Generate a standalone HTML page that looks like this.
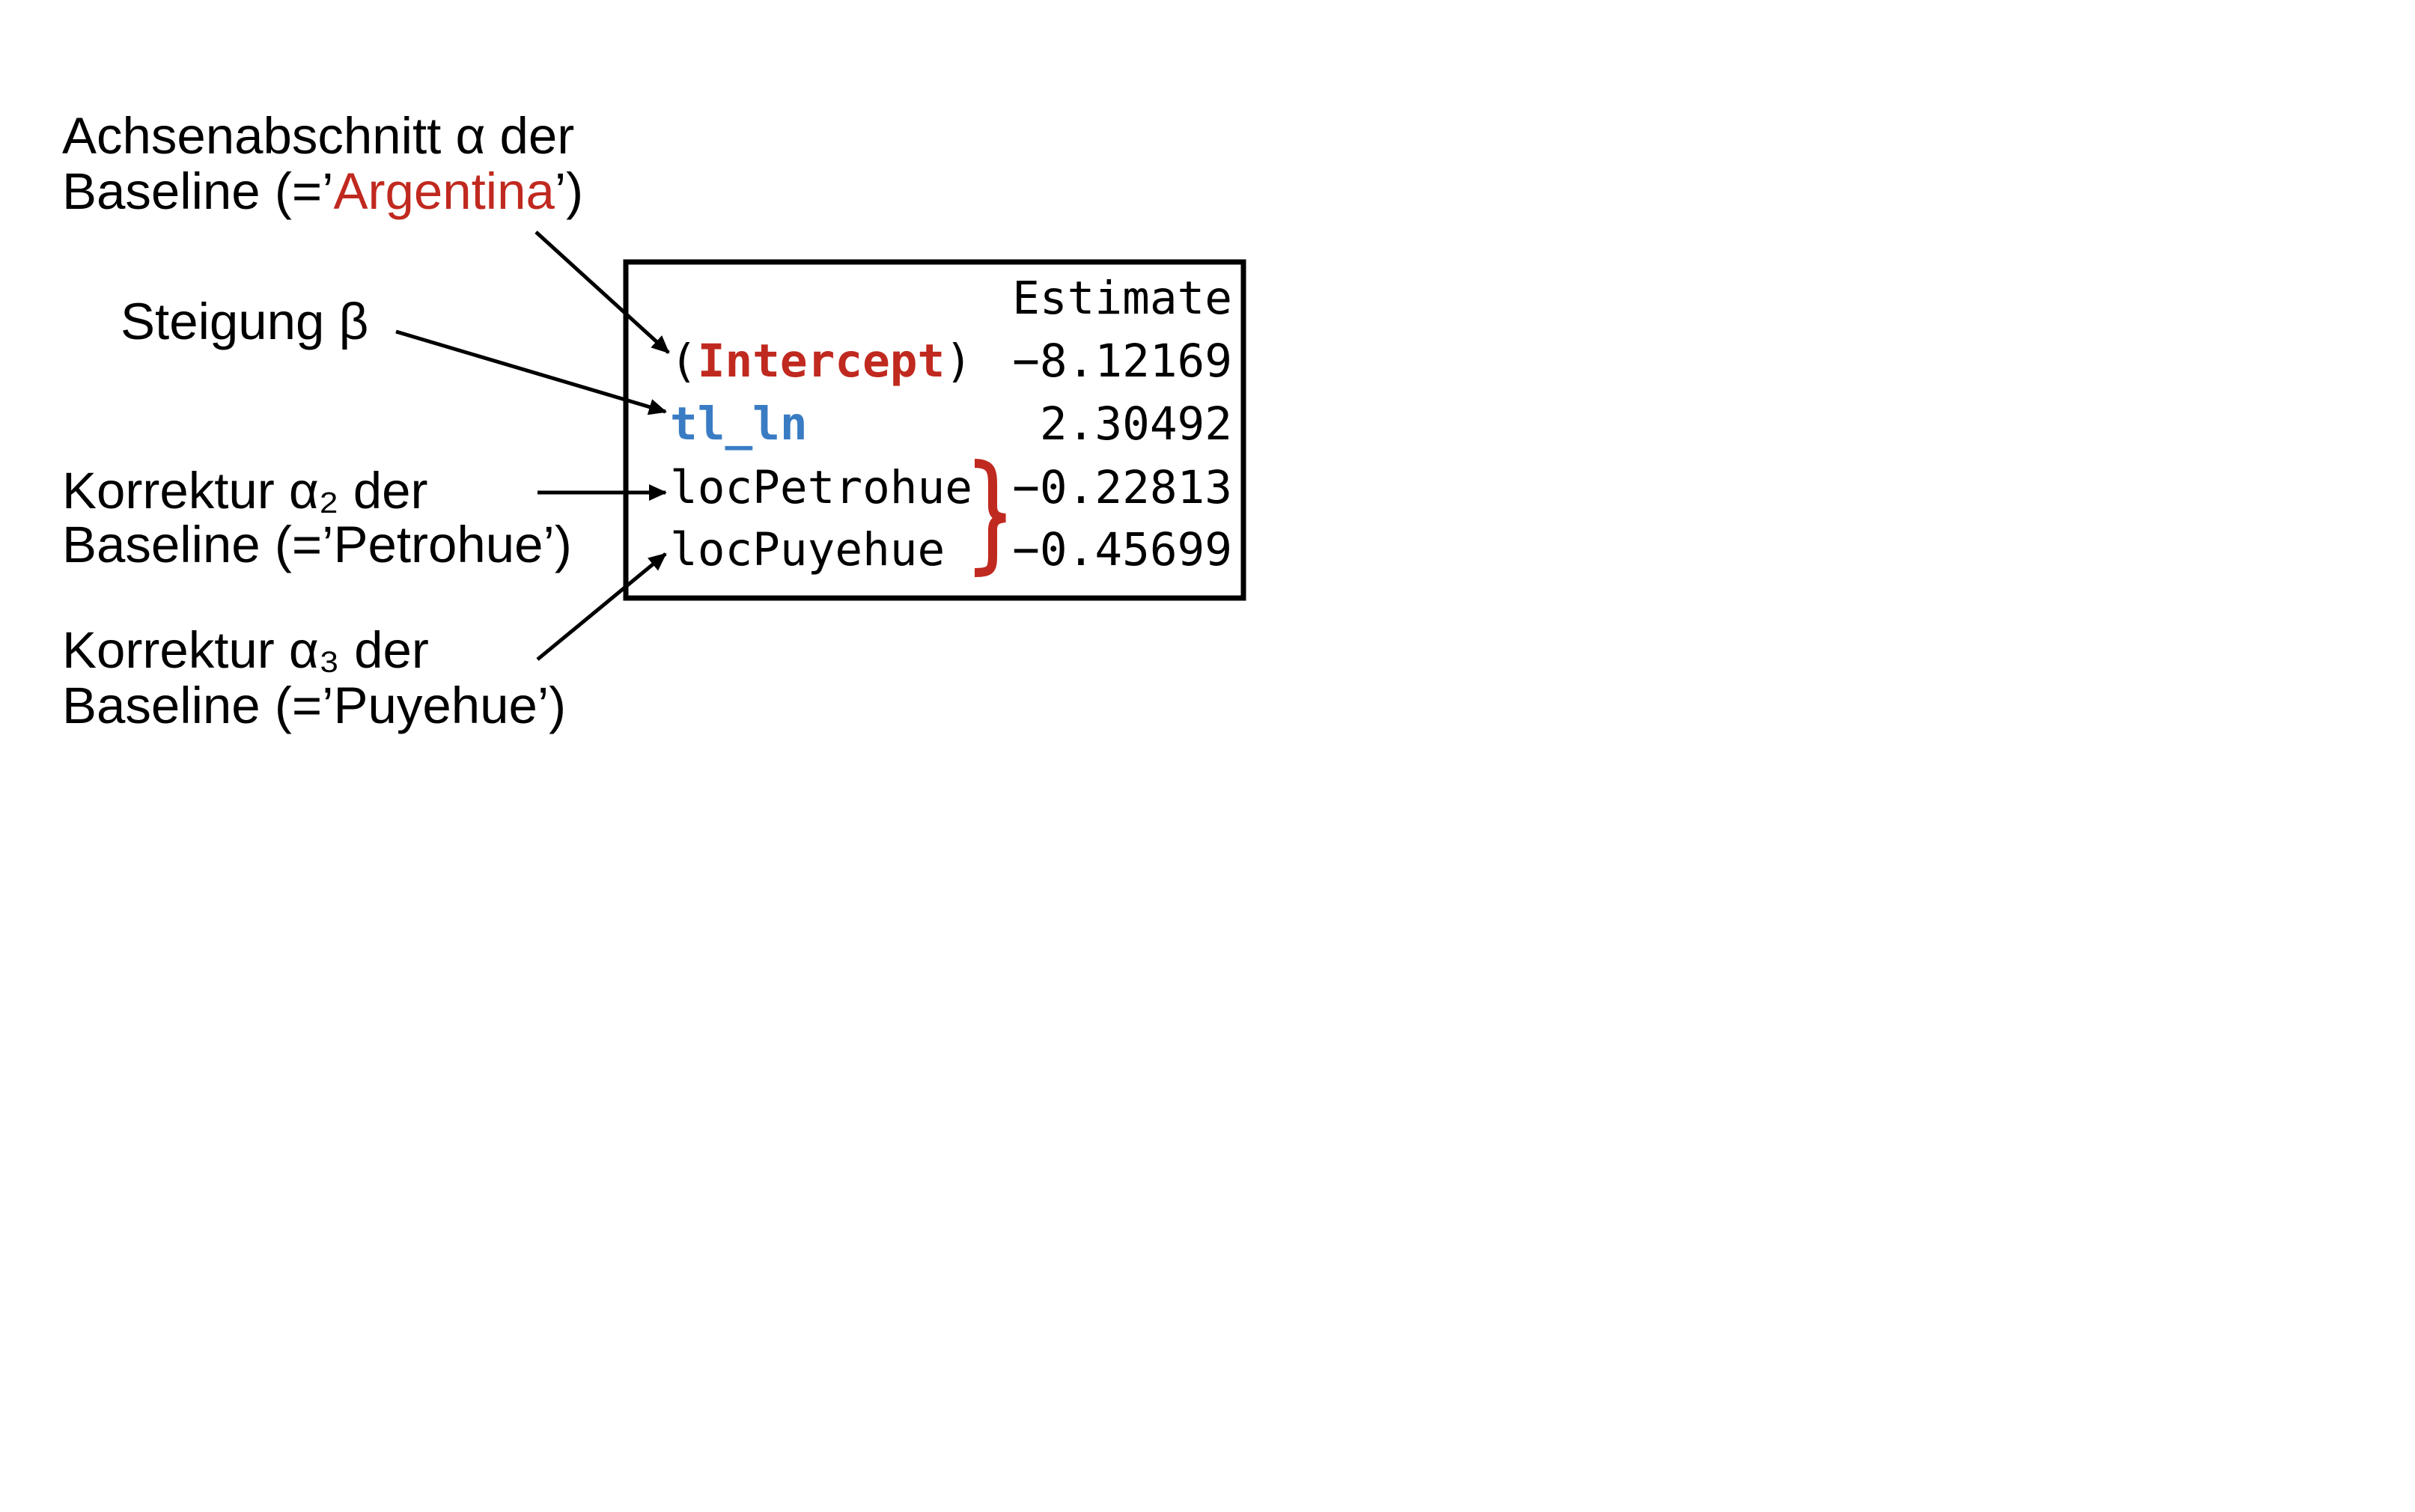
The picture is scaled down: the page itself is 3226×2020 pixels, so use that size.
<!DOCTYPE html>
<html><head><meta charset="utf-8"><style>
html,body{margin:0;padding:0;background:#fff;}
svg{display:block;}
.l{font-family:"Liberation Sans",Arial,sans-serif;font-size:69px;fill:#000;}
.m{font-family:"DejaVu Sans Mono","Liberation Mono",monospace;font-size:61px;fill:#000;}
</style></head><body>
<svg width="3226" height="2020" viewBox="0 0 3226 2020" xmlns="http://www.w3.org/2000/svg">
<defs><marker id="b" markerWidth="24" markerHeight="22" refX="22" refY="11" orient="auto" markerUnits="userSpaceOnUse"><path d="M0,0 L24,11 L0,22 z" fill="#000"/></marker></defs>
<rect x="836" y="350" width="825" height="449" fill="none" stroke="#000" stroke-width="7"/>
<text class="l" x="83" y="205">Achsenabschnitt α der</text>
<text class="l" x="83" y="279">Baseline (=’<tspan fill="#c0291f">Argentina</tspan>’)</text>
<text class="l" x="161" y="453">Steigung β</text>
<text class="l" x="83" y="679">Korrektur α₂ der</text>
<text class="l" x="83" y="751">Baseline (=’Petrohue’)</text>
<text class="l" x="83" y="892">Korrektur α₃ der</text>
<text class="l" x="83" y="966">Baseline (=’Puyehue’)</text>
<g class="m">
<text x="1646" y="419" text-anchor="end">Estimate</text>
<text x="895" y="503">(<tspan fill="#c0291f" font-weight="bold">Intercept</tspan>)</text>
<text x="1646" y="503" text-anchor="end">−8.12169</text>
<text x="895" y="587" fill="#3a7cc4" font-weight="bold">tl_ln</text>
<text x="1646" y="587" text-anchor="end">2.30492</text>
<text x="895" y="672">locPetrohue</text>
<text x="1646" y="672" text-anchor="end">−0.22813</text>
<text x="895" y="755">locPuyehue</text>
<text x="1646" y="755" text-anchor="end">−0.45699</text>
</g>
<path d="M1302,619 C1325,619 1326,630 1326,650 L1326,676 C1326,688 1332,691 1343,692 C1332,693 1326,696 1326,708 L1326,740 C1326,760 1325,765 1302,765" fill="none" stroke="#c0291f" stroke-width="12"/>
<g stroke="#000" stroke-width="5" fill="none">
<line x1="716" y1="310" x2="893" y2="471" marker-end="url(#b)"/>
<line x1="529" y1="443" x2="889" y2="550" marker-end="url(#b)"/>
<line x1="718" y1="658" x2="889" y2="658" marker-end="url(#b)"/>
<line x1="718" y1="881" x2="889" y2="740" marker-end="url(#b)"/>
</g>
</svg>
</body></html>
